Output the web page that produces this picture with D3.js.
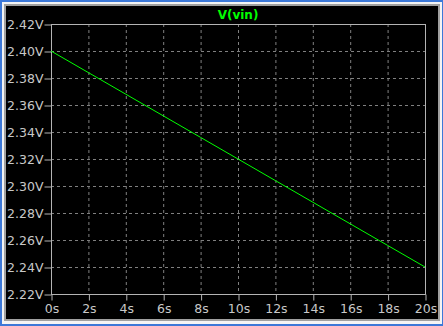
<!DOCTYPE html>
<html>
<head>
<meta charset="utf-8">
<script src="https://cdn.jsdelivr.net/npm/d3@7"></script>
<style>
  body { margin: 0; background: #fff; }
  svg { display: block; }
</style>
</head>
<body>
<script>
// trace data
var times = [0, 2, 4, 6, 8, 10, 12, 14, 16, 18, 20];
var volts = [2.400, 2.384, 2.368, 2.352, 2.336, 2.320, 2.304, 2.288, 2.272, 2.256, 2.240];
var yTicks = [2.22, 2.24, 2.26, 2.28, 2.30, 2.32, 2.34, 2.36, 2.38, 2.40, 2.42];
var xTicks = [0, 2, 4, 6, 8, 10, 12, 14, 16, 18, 20];
var title = "V(vin)";

var W = 443, H = 326;
var svg = d3.select("body").append("svg")
    .attr("width", W)
    .attr("height", H);

// window frame
svg.append("rect").attr("x", 0).attr("y", 0).attr("width", W).attr("height", H).attr("fill", "#3c78d8");
svg.append("rect").attr("x", 2).attr("y", 2).attr("width", W - 3).attr("height", H - 4).attr("fill", "#f4f4f4");
svg.append("rect").attr("x", 4).attr("y", 4).attr("width", W - 7).attr("height", H - 9).attr("fill", "#a0a0a0");
svg.append("rect").attr("x", 6).attr("y", 6).attr("width", W - 11).attr("height", H - 13).attr("fill", "#000");

var x = d3.scaleLinear().domain([0, 20]).range([51, 425]);
var y = d3.scaleLinear().domain([2.22, 2.42]).range([294, 24]);

// dashed grid
svg.selectAll("line.gx").data(xTicks.slice(1, -1)).enter().append("line")
    .attr("class", "gx")
    .attr("x1", d => x(d) + 0.5).attr("x2", d => x(d) + 0.5)
    .attr("y1", 24).attr("y2", 294)
    .attr("stroke", "#808080")
    .attr("stroke-dasharray", "3,3");
svg.selectAll("line.gy").data(yTicks.slice(1, -1)).enter().append("line")
    .attr("class", "gy")
    .attr("x1", 51).attr("x2", 425)
    .attr("y1", d => Math.round(y(d)) + 0.5).attr("y2", d => Math.round(y(d)) + 0.5)
    .attr("stroke", "#808080")
    .attr("stroke-dasharray", "3,3");

// axes
var yAxis = d3.axisLeft(y).tickValues(yTicks).tickSize(7).tickPadding(1)
    .tickFormat(d => d3.format(".2f")(d) + "V");
var xAxis = d3.axisBottom(x).tickValues(xTicks).tickSize(6).tickPadding(4)
    .tickFormat(d => d + "s");

var gy = svg.append("g").attr("transform", "translate(51.5,0.5)").call(yAxis);
var gx = svg.append("g").attr("transform", "translate(0.5,294.5)").call(xAxis);
[gy, gx].forEach(function (g) {
    g.select(".domain").remove();
    g.selectAll("line").attr("stroke", "#b4b4b4");
    g.selectAll("text")
        .attr("fill", "#c8c8c8")
        .style("font-family", "DejaVu Sans, sans-serif")
        .style("font-size", "12.5px");
});

// plot frame
svg.append("rect")
    .attr("x", 51.5).attr("y", 24.5)
    .attr("width", 374).attr("height", 270)
    .attr("fill", "none")
    .attr("stroke", "#b4b4b4");

// trace
var line = d3.line()
    .x((d, i) => x(times[i]))
    .y(d => y(d));
svg.append("path")
    .datum(volts)
    .attr("d", line)
    .attr("fill", "none")
    .attr("stroke", "#00ff00")
    .attr("stroke-width", 1);

svg.append("text")
    .attr("x", 238).attr("y", 19)
    .attr("text-anchor", "middle")
    .attr("fill", "#00ff00")
    .style("font-family", "DejaVu Sans, sans-serif")
    .style("font-weight", "bold")
    .style("font-size", "12px")
    .text(title);
</script>
</body>
</html>
